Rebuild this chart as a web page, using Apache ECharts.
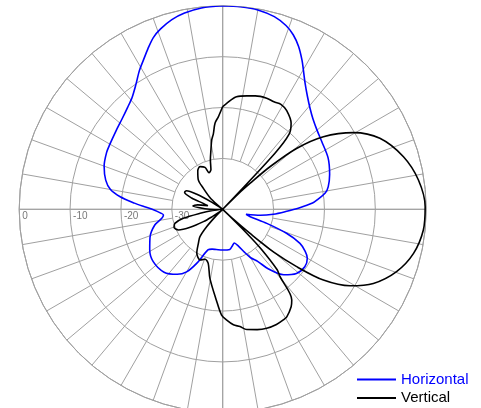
<!DOCTYPE html>
<html>
<head>
<meta charset="utf-8">
<script src="https://cdn.jsdelivr.net/npm/echarts@6/dist/echarts.min.js"></script>
<style>
html,body{margin:0;padding:0;background:#fff;}
#chart{width:481px;height:408px;}
</style>
</head>
<body>
<div id="chart"></div>
<script>
// Horizontal pattern (blue): angle in degrees clockwise from top, level in dB
const hAngles = [0,5,10,15,19,22,25,28,30,33,37,41,45,50,55.5,64,72,78,81,84,86,89,92,95.5,99,102,105,107.7,110.6,113.8,117,120,125,131,137,142.5,146,150,153,157,161,165,170,180,189,195,200,205.7,210,215,223,233,241,249,257,261.6,264.5,266.5,269.5,272,274,277,280,284,290,296,300,306,312,317,321,325,329,332,335,338,341,345,349,354,360];
const hValues = [0,-0.05,-0.2,-0.8,-1.8,-3.0,-4.7,-6.8,-8.3,-10.3,-12.3,-13.8,-14.9,-15.8,-16.4,-16.95,-17.9,-18.8,-19.6,-21.2,-22.3,-25.0,-27.6,-30.0,-32.5,-35.3,-34.4,-30.9,-26.6,-23.4,-21.8,-20.8,-20.3,-20.8,-22.4,-25.2,-27.6,-29.0,-30.5,-32.2,-33.0,-32.6,-32.0,-32.0,-32.0,-31.9,-31.5,-28.2,-25.8,-24.4,-23.1,-22.9,-23.6,-24.7,-26.3,-27.9,-28.3,-27.8,-26.5,-24.5,-22.6,-19.7,-17.6,-16.3,-15.2,-14.6,-14.4,-14.0,-13.4,-12.6,-11.7,-10.2,-8.2,-6.8,-5.2,-3.6,-2.5,-1.4,-0.7,-0.2,0];

// Vertical pattern (black)
const vAngles = [0,2,7,12,16,21.6,25.5,29,33,38.5,41.5,43,44.5,45.5,46.4,48,50.5,54.2,59.6,65.7,73.8,81.5,89.3,95.9,103,109.7,116.2,121,125.1,127.8,130,131.5,133,134,135,136,138,139.6,142.7,144.9,149.2,151.3,155,159.7,164,168.7,171.6,174.7,177.9,180.6,184,190.5,195,199.5,204,210.6,215.6,219.7,222.7,226,229,232,235,237.4,241.1,245,249.7,253.6,257.1,260,263,266,269,272,276.3,280,284,287,290,294,297.1,300,303,306,310,313,317.3,320.3,327,332,337.1,339.5,341.4,343.4,346,348.8,351,353,354.9,357.3,360];
const vValues = [-19.8,-19.2,-17.7,-17.2,-16.8,-16.5,-16.6,-16.4,-16.9,-18.4,-20.3,-25,-40,-35,-32.6,-27.5,-21.2,-15.6,-10.2,-6.1,-3.0,-1.1,-0.2,-0.35,-1.5,-3.7,-7.0,-10.8,-15.8,-21.6,-26.8,-32.9,-37,-40,-33,-29,-24,-22.6,-17.6,-16.6,-15.4,-15.2,-15.0,-15.05,-15.4,-15.9,-16.7,-17.2,-18.2,-19.2,-22.1,-26.2,-29,-29.6,-29.1,-30,-31.8,-33,-35.4,-38.5,-40,-39,-37.5,-35.5,-32.7,-30.4,-29.8,-30.2,-32.06,-35.5,-38,-40,-38.5,-36.5,-34.1,-35,-37,-36,-33.5,-31.8,-32,-34,-37.5,-40,-38.5,-36.5,-34.4,-32.5,-31,-30.5,-31.05,-32.3,-32.2,-31.9,-30,-28.1,-26.2,-25,-23,-21.8,-19.8];

// Radial tick labels (dB), drawn along the left horizontal axis
const radiusTicks = [0, -10, -20, -30];
const tickLabels = ['0', '-10', '-20', '-30'];
const tickAngle = 270;

const seriesNames = ['Horizontal', 'Vertical'];

function pairs(angles, values) {
  return angles.map((a, i) => [values[i], a]);
}

const gridColor = '#a0a0a0';
const chart = echarts.init(document.getElementById('chart'), null, {renderer: 'canvas'});
const CX = 222.7, CY = 209.3, R = 203.5;

const option = {
  animation: false,
  backgroundColor: '#ffffff',
  polar: [
    {center: [CX, CY], radius: [0, R]},
    {center: [CX, CY], radius: [51, R]}
  ],
  angleAxis: [
    {
      polarIndex: 0, type: 'value', min: 0, max: 360, interval: 90,
      startAngle: 90, clockwise: true,
      axisLine: {show: true, lineStyle: {color: gridColor, width: 1}},
      axisTick: {show: false}, axisLabel: {show: false},
      splitLine: {show: true, lineStyle: {color: gridColor, width: 1}}
    },
    {
      polarIndex: 1, type: 'value', min: 0, max: 360, interval: 10,
      startAngle: 90, clockwise: true,
      axisLine: {show: false}, axisTick: {show: false}, axisLabel: {show: false},
      splitLine: {show: true, lineStyle: {color: gridColor, width: 1}}
    }
  ],
  radiusAxis: [
    {
      polarIndex: 0, type: 'value', min: -40, max: 0, interval: 10,
      axisLine: {show: false}, axisTick: {show: false}, axisLabel: {show: false},
      splitLine: {show: true, lineStyle: {color: gridColor, width: 1}}
    },
    {
      polarIndex: 1, type: 'value', min: 0, max: 1,
      axisLine: {show: false}, axisTick: {show: false}, axisLabel: {show: false},
      splitLine: {show: false}
    }
  ],
  legend: {
    data: [
      {name: seriesNames[0], textStyle: {color: '#0000ff'}},
      {name: seriesNames[1], textStyle: {color: '#000000'}}
    ],
    orient: 'vertical', left: 357, top: 371.5, padding: 0, height: 40,
    itemWidth: 39, itemHeight: 2, itemGap: 2.5, icon: 'rect',
    textStyle: {fontSize: 15, fontFamily: 'Liberation Sans, Arial, sans-serif', lineHeight: 16}
  },
  series: [
    {
      name: seriesNames[0], type: 'line', coordinateSystem: 'polar', polarIndex: 0,
      data: pairs(hAngles, hValues), showSymbol: false, smooth: 0.3,
      lineStyle: {color: '#0000ff', width: 1.6}, itemStyle: {color: '#0000ff'}, z: 3
    },
    {
      name: seriesNames[1], type: 'line', coordinateSystem: 'polar', polarIndex: 0,
      data: pairs(vAngles, vValues), showSymbol: false, smooth: 0.3,
      lineStyle: {color: '#000000', width: 1.6}, itemStyle: {color: '#000000'}, z: 4
    },
    {
      name: 'ticks', type: 'scatter', coordinateSystem: 'polar', polarIndex: 0,
      data: radiusTicks.map((r, i) => ({value: [r, tickAngle], label: {formatter: tickLabels[i]}})),
      symbolSize: 0, silent: true,
      label: {show: true, position: 'right', distance: 3, offset: [0, 7], color: '#555', fontSize: 10, fontFamily: 'Liberation Sans, Arial, sans-serif'}
    }
  ]
};
chart.setOption(option);
</script>
</body>
</html>
